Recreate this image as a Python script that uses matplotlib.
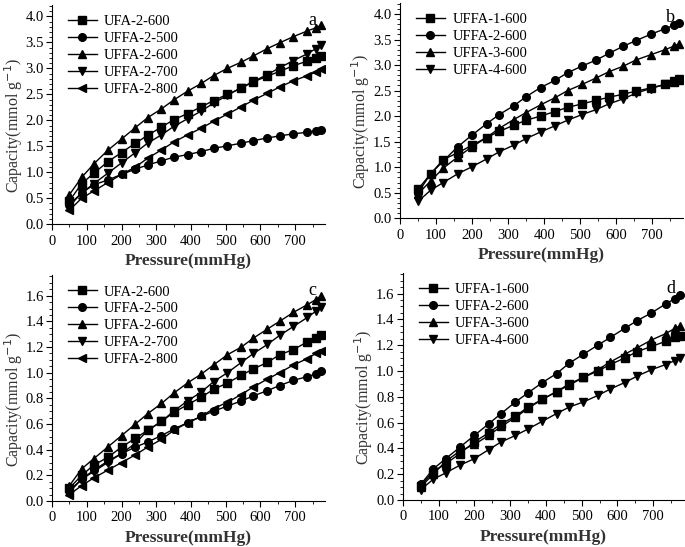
import numpy as np
import matplotlib.pyplot as plt
from matplotlib.ticker import MultipleLocator

plt.rcParams['font.family'] = ['Liberation Serif', 'DejaVu Serif']

pressure = [50, 85, 120, 160, 200, 240, 275, 315, 350, 390, 430, 465,
            505, 545, 580, 620, 655, 695, 735, 760, 775]

# panel a
a_labels = ['UFA-2-600', 'UFFA-2-500', 'UFFA-2-600', 'UFFA-2-700', 'UFFA-2-800']
a_ufa_600 = [0.45, 0.78, 0.98, 1.2, 1.38, 1.56, 1.71, 1.87, 2.01, 2.13, 2.26, 2.38,
             2.50, 2.62, 2.74, 2.85, 2.94, 3.05, 3.14, 3.2, 3.24]
a_uffa_500 = [0.38, 0.6, 0.76, 0.85, 0.96, 1.06, 1.14, 1.22, 1.29, 1.34, 1.40, 1.46,
              1.51, 1.56, 1.61, 1.66, 1.70, 1.74, 1.77, 1.80, 1.82]
a_uffa_600 = [0.57, 0.9, 1.16, 1.42, 1.64, 1.86, 2.05, 2.22, 2.39, 2.56, 2.71, 2.86,
              3.0, 3.12, 3.24, 3.38, 3.49, 3.61, 3.72, 3.78, 3.83]
a_uffa_700 = [0.35, 0.6, 0.78, 0.98, 1.18, 1.38, 1.56, 1.72, 1.88, 2.03, 2.18, 2.33,
              2.48, 2.63, 2.75, 2.88, 3.01, 3.15, 3.28, 3.38, 3.44]
a_uffa_800 = [0.27, 0.5, 0.64, 0.8, 0.96, 1.1, 1.27, 1.43, 1.58, 1.72, 1.85, 1.98,
              2.12, 2.26, 2.39, 2.52, 2.64, 2.76, 2.86, 2.93, 2.99]

# panel b
b_labels = ['UFFA-1-600', 'UFFA-2-600', 'UFFA-3-600', 'UFFA-4-600']
b_uffa_1 = [0.57, 0.87, 1.15, 1.28, 1.43, 1.58, 1.7, 1.82, 1.92, 2.0, 2.09, 2.17,
            2.24, 2.31, 2.37, 2.43, 2.49, 2.55, 2.62, 2.67, 2.7]
b_uffa_2 = [0.5, 0.87, 1.12, 1.4, 1.63, 1.85, 2.03, 2.2, 2.38, 2.56, 2.7, 2.85,
            2.98, 3.1, 3.23, 3.37, 3.48, 3.6, 3.71, 3.78, 3.83]
b_uffa_3 = [0.48, 0.73, 0.98, 1.2, 1.4, 1.58, 1.76, 1.93, 2.07, 2.22, 2.36, 2.5,
            2.62, 2.75, 2.87, 2.98, 3.1, 3.2, 3.3, 3.37, 3.42]
b_uffa_4 = [0.33, 0.55, 0.7, 0.87, 1.01, 1.16, 1.3, 1.43, 1.56, 1.69, 1.81, 1.92,
            2.03, 2.13, 2.24, 2.34, 2.45, 2.54, 2.62, 2.68, 2.72]

# panel c
c_ufa_600 = [0.1, 0.2, 0.28, 0.34, 0.42, 0.49, 0.55, 0.62, 0.69, 0.75, 0.81, 0.87,
             0.92, 0.98, 1.03, 1.08, 1.14, 1.18, 1.24, 1.27, 1.29]
c_uffa_500 = [0.08, 0.17, 0.24, 0.31, 0.37, 0.42, 0.46, 0.51, 0.56, 0.61, 0.66, 0.7,
              0.74, 0.78, 0.82, 0.86, 0.9, 0.94, 0.97, 0.99, 1.01]
c_uffa_600 = [0.12, 0.25, 0.33, 0.42, 0.51, 0.6, 0.68, 0.76, 0.84, 0.92, 0.99, 1.06,
              1.14, 1.2, 1.27, 1.34, 1.4, 1.47, 1.53, 1.57, 1.6]
c_uffa_700 = [0.07, 0.17, 0.23, 0.3, 0.37, 0.45, 0.55, 0.62, 0.7, 0.78, 0.85, 0.93,
              1.0, 1.08, 1.15, 1.22, 1.29, 1.36, 1.43, 1.48, 1.51]
c_uffa_800 = [0.05, 0.12, 0.18, 0.24, 0.3, 0.36, 0.42, 0.48, 0.55, 0.61, 0.66, 0.72,
              0.77, 0.83, 0.89, 0.95, 1.0, 1.06, 1.11, 1.15, 1.17]

# panel d
d_uffa_1 = [0.11, 0.22, 0.28, 0.36, 0.45, 0.52, 0.59, 0.65, 0.72, 0.78, 0.84, 0.9,
            0.95, 1.0, 1.05, 1.1, 1.15, 1.19, 1.23, 1.26, 1.27]
d_uffa_2 = [0.12, 0.24, 0.32, 0.41, 0.5, 0.59, 0.67, 0.76, 0.83, 0.91, 0.98, 1.06,
            1.13, 1.2, 1.26, 1.33, 1.39, 1.45, 1.52, 1.56, 1.59]
d_uffa_3 = [0.1, 0.2, 0.3, 0.38, 0.43, 0.5, 0.57, 0.64, 0.71, 0.78, 0.84, 0.89,
            0.95, 1.01, 1.07, 1.13, 1.18, 1.24, 1.29, 1.33, 1.35]
d_uffa_4 = [0.08, 0.16, 0.21, 0.27, 0.32, 0.39, 0.45, 0.5, 0.55, 0.61, 0.67, 0.72,
            0.76, 0.81, 0.86, 0.91, 0.96, 1.01, 1.05, 1.08, 1.1]

markers5 = ['s', 'o', '^', 'v', '<']

fig = plt.figure(figsize=(6.85, 5.47), dpi=100)
ax_a = fig.add_axes([0.076, 0.590, 0.398, 0.401])
ax_b = fig.add_axes([0.584, 0.601, 0.413, 0.394])
ax_c = fig.add_axes([0.076, 0.084, 0.398, 0.413])
ax_d = fig.add_axes([0.588, 0.086, 0.41, 0.415])

panels = [
    (ax_a, 'a', a_labels, [a_ufa_600, a_uffa_500, a_uffa_600, a_uffa_700, a_uffa_800], 4.22, 0.5, 0.1, -0.1),
    (ax_b, 'b', b_labels, [b_uffa_1, b_uffa_2, b_uffa_3, b_uffa_4], 4.22, 0.5, 0.1, -0.1),
    (ax_c, 'c', a_labels, [c_ufa_600, c_uffa_500, c_uffa_600, c_uffa_700, c_uffa_800], 1.76, 0.2, 0.05, -0.1),
    (ax_d, 'd', b_labels, [d_uffa_1, d_uffa_2, d_uffa_3, d_uffa_4], 1.76, 0.2, 0.05, -0.1),
]

for ax, tag, labels, series, ymax, ymaj, ymin, lab_x in panels:
    for lab, y, m in zip(labels, series, markers5):
        ax.plot(pressure, y, color='black', lw=1.0, marker=m, markersize=5.5, label=lab)
    ax.set_xlim(0, 785)
    ax.set_ylim(0, ymax)
    ax.xaxis.set_major_locator(MultipleLocator(100))
    ax.xaxis.set_minor_locator(MultipleLocator(50))
    ax.yaxis.set_major_locator(MultipleLocator(ymaj))
    ax.yaxis.set_minor_locator(MultipleLocator(ymin))
    ax.yaxis.set_major_formatter(plt.FormatStrFormatter('%.1f'))
    ax.spines['top'].set_visible(False)
    ax.spines['right'].set_visible(False)
    ax.tick_params(which='major', length=4, labelsize=10.5)
    ax.tick_params(axis='y', which='major', pad=2)
    ax.tick_params(which='minor', length=2)
    ax.set_xlabel('Pressure(mmHg)', fontsize=12.5, fontweight='bold', color='#333333')
    ax.set_ylabel('Capacity(mmol g$^{-1}$)', fontsize=11.5, color='#333333')
    ax.yaxis.set_label_coords(lab_x, 0.45)
    ax.text(0.97, 0.97, tag, transform=ax.transAxes, ha='right', va='top', fontsize=13)
    ax.legend(loc='upper left', frameon=False, fontsize=10.5, handlelength=2.0,
              handletextpad=0.5, labelspacing=0.25, borderaxespad=0.3,
              bbox_to_anchor=(0.02, 1.0))

fig.savefig('out.png', dpi=100)
